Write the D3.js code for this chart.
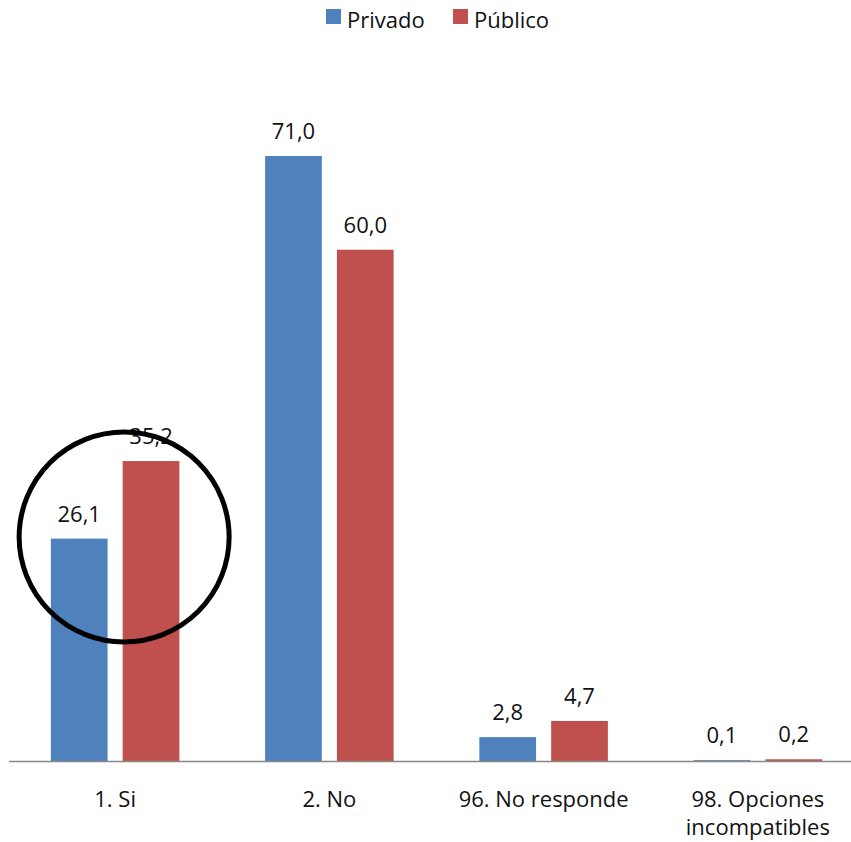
<!DOCTYPE html>
<html>
<head>
<meta charset="utf-8">
<script src="https://cdn.jsdelivr.net/npm/d3@7"></script>
<style>
  body { margin: 0; background: #fff; }
  svg { display: block; font-family: 'Open Sans', sans-serif; }
</style>
</head>
<body>
<div id="chart"></div>
<script>
let categories = ['1. Si', '2. No', '96. No responde', '98. Opciones|incompatibles'];
let series = ['Privado', 'Público'];
let privado = [26.1, 71.0, 2.8, 0.1];
let publico = [35.2, 60.0, 4.7, 0.2];
let colors = ['#4F81BD', '#C0504D'];

let createView = function(){
    let width = 851, height = 842;
    let svg = d3.select('#chart').append('svg')
        .attr('width', width)
        .attr('height', height);

    let rows = categories.map((c, i) => ({ cat: c, values: [privado[i], publico[i]] }));

    let x = d3.scaleBand()
        .domain(categories)
        .range([8, 865])
        .paddingInner(0)
        .paddingOuter(0);

    let inner = d3.scaleBand()
        .domain(series)
        .range([x.bandwidth() * 0.2, x.bandwidth() * 0.8])
        .paddingInner(0.21);

    let y = d3.scaleLinear()
        .domain([0, 71])
        .range([761, 156]);

    let groups = svg.append('g')
        .selectAll('g')
        .data(rows)
        .enter().append('g')
        .attr('transform', d => `translate(${x(d.cat)},0)`);

    groups.selectAll('rect')
        .data(d => d.values.map((v, j) => ({ s: series[j], v: v, j: j })))
        .enter().append('rect')
        .attr('x', d => inner(d.s))
        .attr('y', d => y(d.v))
        .attr('width', inner.bandwidth())
        .attr('height', d => y(0) - y(d.v))
        .attr('fill', d => colors[d.j]);

    groups.selectAll('text.val')
        .data(d => d.values.map((v, j) => ({ s: series[j], v: v })))
        .enter().append('text')
        .attr('class', 'val')
        .attr('x', d => inner(d.s) + inner.bandwidth() / 2)
        .attr('y', d => y(d.v) - 17)
        .attr('text-anchor', 'middle')
        .attr('font-size', 22)
        .attr('fill', '#111')
        .text(d => d3.format('.1f')(d.v).replace('.', ','));

    // axis line
    svg.append('line')
        .attr('x1', 9).attr('x2', width)
        .attr('y1', y(0) + 0.5).attr('y2', y(0) + 0.5)
        .attr('stroke', '#888')
        .attr('stroke-width', 1.5);

    // category labels
    let labels = svg.append('g')
        .selectAll('text')
        .data(categories)
        .enter().append('text')
        .attr('text-anchor', 'middle')
        .attr('font-size', 22)
        .attr('fill', '#111')
        .attr('transform', d => `translate(${x(d) + x.bandwidth() / 2},807)`);
    labels.selectAll('tspan')
        .data(d => d.split('|'))
        .enter().append('tspan')
        .attr('x', 0)
        .attr('dy', (d, i) => i === 0 ? 0 : 28)
        .text(d => d);

    // legend
    let legendX = [326, 453];
    let legend = svg.append('g')
        .selectAll('g')
        .data(series)
        .enter().append('g')
        .attr('transform', (d, i) => `translate(${legendX[i]},0)`);
    legend.append('rect')
        .attr('x', 0).attr('y', 9)
        .attr('width', 15).attr('height', 15)
        .attr('fill', (d, i) => colors[i]);
    legend.append('text')
        .attr('x', 21).attr('y', 28)
        .attr('font-size', 22)
        .attr('fill', '#111')
        .text(d => d);

    // highlight circle round the first group
    svg.append('circle')
        .attr('cx', x(categories[0]) + x.bandwidth() / 2 + 9)
        .attr('cy', 537)
        .attr('r', 105)
        .attr('fill', 'none')
        .attr('stroke', '#000')
        .attr('stroke-width', 5);
}

createView();
</script>
</body>
</html>
